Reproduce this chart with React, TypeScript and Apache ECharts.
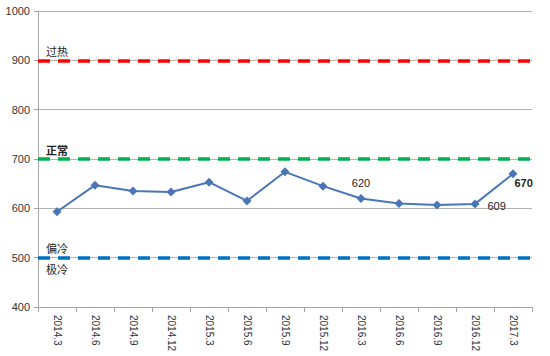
import React, { useEffect, useRef } from "react";
import * as echarts from "echarts";

const categories = ["2014.3", "2014.6", "2014.9", "2014.12", "2015.3", "2015.6", "2015.9", "2015.12", "2016.3", "2016.6", "2016.9", "2016.12", "2017.3"];
const values = [593, 647, 635, 633, 653, 615, 674, 645, 620, 610, 607, 609, 670];
const yTicks = { min: 400, max: 1000, interval: 100 };
const zones = [
  { value: 900, label: "过热", color: "#ff0000" },
  { value: 700, label: "正常", color: "#00b050" },
  { value: 500, label: "偏冷", color: "#0070c0" },
];
const belowLabel = { value: 500, label: "极冷" };

export default function App() {
  const ref = useRef<HTMLDivElement>(null);
  useEffect(() => {
    if (!ref.current) return;
    const chart = echarts.init(ref.current, null, { renderer: "svg" });
    const font = "Liberation Sans";
    const cjk = "Noto Sans CJK SC";
    const markData: any[] = zones.map((z) => ({
      yAxis: z.value,
      lineStyle: { color: z.color, width: 3.5, type: [12, 8] },
      label: {
        show: true,
        formatter: z.label,
        position: "insideStartTop",
        distance: [8, 4],
        color: "#222",
        fontSize: 11,
        fontWeight: z.value === 700 ? "bold" : "normal",
        fontFamily: cjk,
      },
    }));
    const belowData = [
      {
        yAxis: belowLabel.value,
        lineStyle: { color: "rgba(0,0,0,0)", width: 0 },
        label: {
          show: true,
          formatter: belowLabel.label,
          position: "insideStartBottom",
          distance: [8, 6],
          color: "#222",
          fontSize: 11,
          fontFamily: cjk,
        },
      },
    ];
    const labelIdx: Record<number, any> = {
      8: { position: "top", distance: 5 },
      11: { position: "right", distance: 8, offset: [0, 2] },
      12: { position: "right", distance: 0, offset: [-3, 9], fontWeight: "bold" },
    };
    chart.setOption({
      animation: false,
      backgroundColor: "#fff",
      grid: { left: 38, right: 18, top: 11, bottom: 49 },
      xAxis: {
        type: "category",
        data: categories,
        boundaryGap: true,
        axisLine: { lineStyle: { color: "#a6a6a6" } },
        axisTick: { show: true, alignWithLabel: false, length: 5, lineStyle: { color: "#a6a6a6" } },
        axisLabel: { rotate: -90, color: "#333", fontSize: 10, fontFamily: font, margin: 8, interval: 0 },
      },
      yAxis: {
        type: "value",
        min: yTicks.min,
        max: yTicks.max,
        interval: yTicks.interval,
        axisLine: { show: true, lineStyle: { color: "#a6a6a6" } },
        axisTick: { show: true, length: 4, lineStyle: { color: "#a6a6a6" } },
        axisLabel: { color: "#333", fontSize: 11, fontFamily: font, margin: 8, formatter: (v: number) => String(v) },
        splitLine: { lineStyle: { color: "#b3b3b3" } },
      },
      series: [
        {
          type: "line",
          data: values.map((v, i) =>
            labelIdx[i]
              ? {
                  value: v,
                  label: {
                    show: true,
                    color: "#222",
                    fontSize: 11,
                    fontFamily: font,
                    ...labelIdx[i],
                  },
                }
              : v
          ),
          symbol: "diamond",
          symbolSize: 9,
          lineStyle: { color: "#4a76b8", width: 2 },
          itemStyle: { color: "#4a76b8" },
          z: 3,
          markLine: {
            silent: true,
            symbol: "none",
            data: markData,
          },
        },
        {
          type: "line",
          data: [],
          markLine: {
            silent: true,
            symbol: "none",
            data: belowData,
          },
        },
      ],
    });
    return () => chart.dispose();
  }, []);
  return <div ref={ref} style={{ position: "absolute", left: 0, top: 0, width: 550, height: 356 }} />;
}
